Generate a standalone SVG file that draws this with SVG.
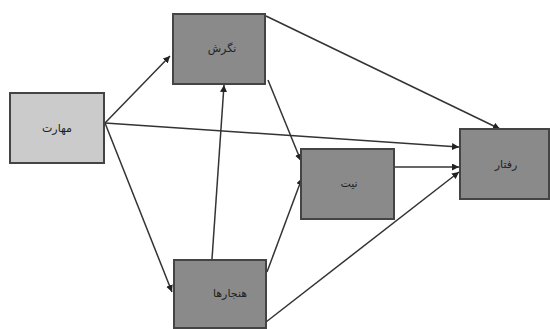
<svg xmlns="http://www.w3.org/2000/svg" width="550" height="329" viewBox="0 0 550 329">
<defs>
<marker id="ah" viewBox="0 0 10 10" refX="10" refY="5" markerWidth="7" markerHeight="7" orient="auto" markerUnits="userSpaceOnUse">
<path d="M0,0 L10,5 L0,10 z" fill="#222"/>
</marker>
<style>
.box{fill:#8a8a8a;stroke:#444;stroke-width:2}
.light{fill:#cbcbcb;stroke:#444;stroke-width:2}
.lbl{font-family:"Noto Sans","DejaVu Sans",sans-serif;font-size:11px;fill:#222;text-anchor:middle}
.c{stroke:#333;stroke-width:1.5;fill:none;marker-end:url(#ah)}
</style>
</defs>
<rect width="550" height="329" fill="#fff"/>
<g id="connectors">
<line class="c" x1="105" y1="123" x2="170" y2="56"/>
<line class="c" x1="105" y1="123" x2="172" y2="292"/>
<line class="c" x1="105" y1="123" x2="459" y2="147"/>
<line class="c" x1="266" y1="16" x2="500" y2="129"/>
<line class="c" x1="268" y1="80" x2="301" y2="161"/>
<line class="c" x1="212" y1="259" x2="224" y2="85"/>
<line class="c" x1="267" y1="272" x2="302" y2="178"/>
<line class="c" x1="266" y1="322" x2="459" y2="172"/>
<line class="c" x1="395" y1="167" x2="459" y2="167"/>
</g>
<g id="n-left">
<rect class="light" x="10" y="93" width="94" height="70"/>
<text class="lbl" x="57" y="132" direction="rtl">مهارت</text>
</g>
<g id="n-top">
<rect class="box" x="173" y="14" width="92" height="70"/>
<text class="lbl" x="222" y="52" direction="rtl">نگرش</text>
</g>
<g id="n-mid">
<rect class="box" x="301" y="149" width="93" height="70"/>
<text class="lbl" x="349" y="187" direction="rtl">نیت</text>
</g>
<g id="n-right">
<rect class="box" x="460" y="129" width="89" height="70"/>
<text class="lbl" x="506" y="168" direction="rtl">رفتار</text>
</g>
<g id="n-bottom">
<rect class="box" x="174" y="260" width="92" height="68"/>
<text class="lbl" x="230" y="297" direction="rtl">هنجارها</text>
</g>
</svg>
